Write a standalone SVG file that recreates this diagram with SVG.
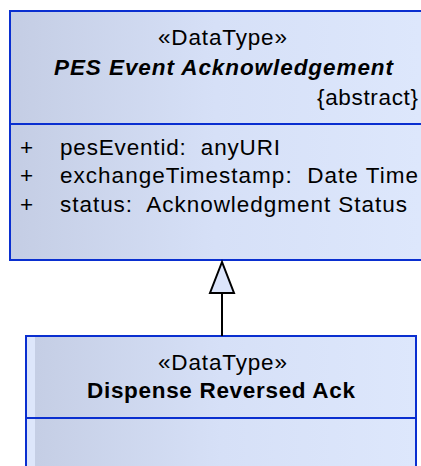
<svg xmlns="http://www.w3.org/2000/svg" width="421" height="466" viewBox="0 0 421 466">
<defs>
<linearGradient id="g1" gradientUnits="userSpaceOnUse" x1="10" y1="0" x2="421" y2="0">
<stop offset="0" stop-color="#c4cde4"/>
<stop offset="0.5" stop-color="#d6e0f7"/>
<stop offset="1" stop-color="#dde7fc"/>
</linearGradient>
<linearGradient id="g2" gradientUnits="userSpaceOnUse" x1="26" y1="0" x2="416" y2="0">
<stop offset="0" stop-color="#c4cde4"/>
<stop offset="0.5" stop-color="#d6e0f7"/>
<stop offset="1" stop-color="#dde7fc"/>
</linearGradient>
<style>
.box{stroke:#0a2fd0;stroke-width:2}
.div{stroke:#0a2fd0;stroke-width:2}
.t{font-family:"Liberation Sans",Arial,sans-serif;font-size:22.5px;fill:#000}
.c{text-anchor:middle}
.b{font-weight:bold}
.i{font-style:italic}
.edge{stroke:#000;stroke-width:2;fill:none}
.head{stroke:#000;stroke-width:2;fill:#dce5fb}
</style>
</defs>
<g id="node-pes-event-ack">
<rect class="box" x="10" y="11" width="430" height="249" fill="url(#g1)"/>
<line class="div" x1="10" y1="124" x2="421" y2="124"/>
<text class="t c" x="222.5" y="45" textLength="129" lengthAdjust="spacing">«DataType»</text>
<text class="t c b i" x="223.5" y="75" textLength="339" lengthAdjust="spacing">PES Event Acknowledgement</text>
<text class="t" x="317" y="105" textLength="101" lengthAdjust="spacing">{abstract}</text>
<text class="t" x="20" y="155">+</text>
<text class="t" x="60" y="155" textLength="220" lengthAdjust="spacing" xml:space="preserve">pesEventid:  anyURI</text>
<text class="t" x="20" y="183">+</text>
<text class="t" x="60" y="183" textLength="358" lengthAdjust="spacing" xml:space="preserve">exchangeTimestamp:  Date Time</text>
<text class="t" x="20" y="212">+</text>
<text class="t" x="60" y="212" textLength="347" lengthAdjust="spacing" xml:space="preserve">status:  Acknowledgment Status</text>
</g>
<g id="node-dispense-reversed-ack">
<rect class="box" x="26" y="336" width="390" height="140" fill="url(#g2)"/>
<rect x="27" y="337" width="8" height="130" fill="#dde6fb"/>
<line class="div" x1="26" y1="418" x2="416" y2="418"/>
<text class="t c" x="222.5" y="370" textLength="129" lengthAdjust="spacing">«DataType»</text>
<text class="t c b" x="221" y="398" textLength="268" lengthAdjust="spacing">Dispense Reversed Ack</text>
</g>
<g id="connectors">
<line class="edge" x1="222" y1="293" x2="222" y2="336"/>
<polygon class="head" points="222,262 210,293 234,293"/>
</g>
</svg>
